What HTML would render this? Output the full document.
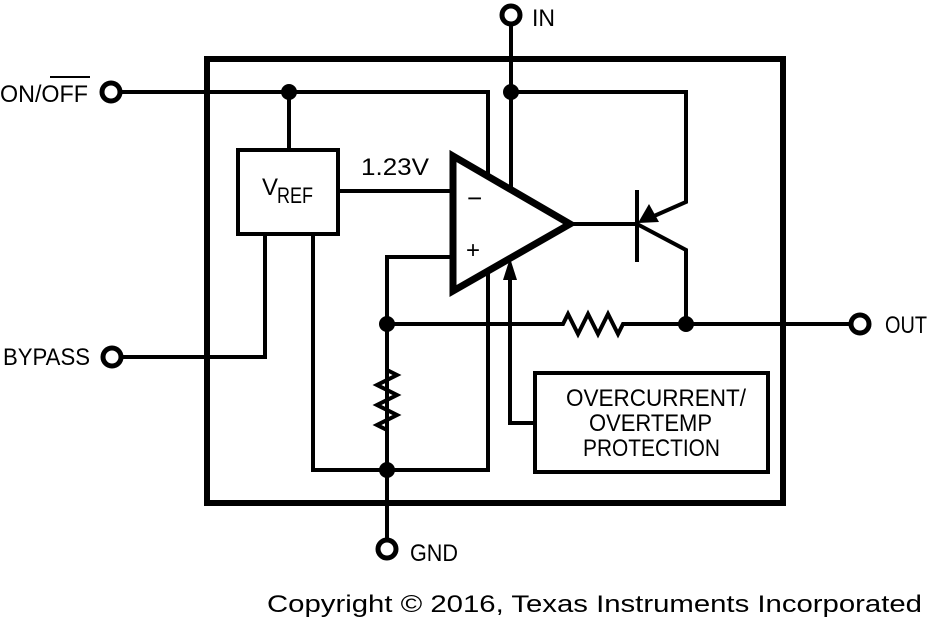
<!DOCTYPE html>
<html><head><meta charset="utf-8"><style>
html,body{margin:0;padding:0;background:#fff;}
svg{display:block;}
text{font-family:"Liberation Sans",sans-serif;fill:#000;}
</style></head><body>
<svg width="944" height="622" viewBox="0 0 944 622" xmlns="http://www.w3.org/2000/svg">
<g fill="none" stroke="#000" stroke-width="4" stroke-linejoin="miter">
<rect x="207" y="59" width="576" height="444" stroke-width="6"/>
<polyline points="120,92 488,92 488,470 313,470 313,234"/>
<line x1="289" y1="92" x2="289" y2="150"/>
<rect x="238" y="150" width="100" height="84"/>
<line x1="338" y1="191" x2="453" y2="191"/>
<polyline points="122,357 265,357 265,234"/>
<line x1="511" y1="25" x2="511" y2="190"/>
<polyline points="511,92 686,92 686,202 645,220"/>
<polyline points="637,224 686,250 686,324"/>
<line x1="637" y1="190" x2="637" y2="262"/>
<line x1="570" y1="224" x2="637" y2="224"/>
<polyline points="453,257 387,257 387,540"/>
<polyline points="387,324 563,324 568,314 578,334 588,314 598,334 608,314 618,334 623,324 850,324"/>
<polyline points="387,370 397,375 377,385 397,395 377,405 397,415 377,425 387,430"/>
<polyline points="535,423 510,423 510,275"/>
<rect x="535" y="373" width="233" height="99"/>
</g>
<polygon points="453,156 570,224 453,291" fill="#fff" stroke="#000" stroke-width="7" stroke-linejoin="miter"/>
<polygon points="510,258 503,280 517,280" fill="#000"/>
<polygon points="638,223 649,204 659,222" fill="#000"/>
<g fill="#000">
<circle cx="289" cy="92" r="8"/>
<circle cx="511" cy="92" r="8"/>
<circle cx="387" cy="324" r="8"/>
<circle cx="686" cy="324" r="8"/>
<circle cx="387" cy="470" r="8"/>
</g>
<g fill="#fff" stroke="#000" stroke-width="5">
<circle cx="111" cy="92" r="9"/>
<circle cx="112" cy="357" r="9"/>
<circle cx="511" cy="15" r="9"/>
<circle cx="860" cy="324" r="9"/>
<circle cx="387" cy="549" r="9"/>
</g>
<g font-size="24">
<text x="0" y="102" textLength="88" lengthAdjust="spacingAndGlyphs">ON/OFF</text>
<line x1="50" y1="77" x2="90" y2="77" stroke="#000" stroke-width="2"/>
<text x="3" y="365" textLength="87" lengthAdjust="spacingAndGlyphs">BYPASS</text>
<text x="532" y="26" textLength="23" lengthAdjust="spacingAndGlyphs">IN</text>
<text x="885" y="333" textLength="42" lengthAdjust="spacingAndGlyphs">OUT</text>
<text x="410" y="561" textLength="48" lengthAdjust="spacingAndGlyphs">GND</text>
<text x="361" y="175" textLength="68" lengthAdjust="spacingAndGlyphs">1.23V</text>
<text x="262" y="195" textLength="16" lengthAdjust="spacingAndGlyphs">V</text>
<text x="277" y="203" font-size="22" textLength="36" lengthAdjust="spacingAndGlyphs">REF</text>
<text x="566" y="406" textLength="180" lengthAdjust="spacingAndGlyphs">OVERCURRENT/</text>
<text x="589" y="431" textLength="123" lengthAdjust="spacingAndGlyphs">OVERTEMP</text>
<text x="583" y="456" textLength="137" lengthAdjust="spacingAndGlyphs">PROTECTION</text>
<text x="467" y="207" font-size="26">−</text>
<text x="466" y="258" font-size="24">+</text>
<text x="267" y="612" font-size="24" textLength="655" lengthAdjust="spacingAndGlyphs">Copyright © 2016, Texas Instruments Incorporated</text>
</g>
</svg>
</body></html>
